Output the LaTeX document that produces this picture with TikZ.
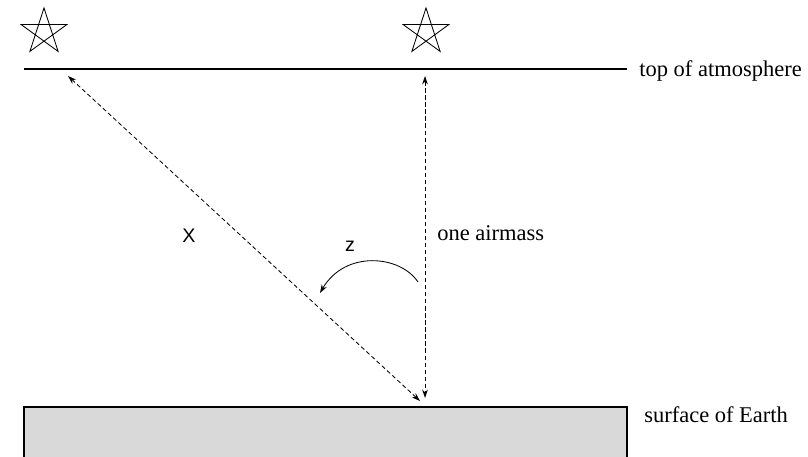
\documentclass[tikz,border=0pt]{standalone}
\usepackage{fontspec}
\setmainfont{Liberation Serif}
\newfontfamily\labfont{Liberation Sans}
\usetikzlibrary{arrows.meta}

\begin{document}
\begin{tikzpicture}[
    x=0.025cm, y=0.025cm,
    >={Stealth[length=6pt, width=4pt]},
    every node/.style={inner sep=0pt, font=\fontsize{16}{19}\selectfont},
    levelline/.style={line width=0.9pt},
    airpath/.style={<->, line width=0.6pt, dash pattern=on 3pt off 2pt},
    anglearc/.style={->, line width=0.6pt},
    ground/.style={draw, line width=1pt, fill=gray!30},
    starpath/.style={line width=0.6pt},
    varlab/.style={font=\labfont\fontsize{14}{16}\selectfont},
    ]
  \clip (0,0) rectangle (808,457);

  % the two stars
  \coordinate (star1) at (44,425);
  \coordinate (star2) at (426,425);
  \foreach \s in {star1, star2}
    \draw[starpath, shift={(\s)}] (90:24) -- (234:24) -- (18:24) -- (162:24) -- (306:24) -- cycle;

  % top of atmosphere
  \coordinate (toa west) at (24,388);
  \coordinate (toa east) at (627,388);
  \draw[levelline] (toa west) -- (toa east);
  \node[anchor=west] (toalab) at (639,386) {top of atmosphere};

  % surface
  \draw[ground] (24,50) rectangle (627,-10);
  \node[anchor=west] (surflab) at (644,42) {surface of Earth};

  % paths through the air
  \coordinate (slant top) at (68,381);
  \coordinate (zenith top) at (425,381);
  \coordinate (slant foot) at (420,56);
  \coordinate (zenith foot) at (425,59);
  \draw[airpath] (slant top) -- (slant foot);
  \draw[airpath] (zenith top) -- (zenith foot);

  % zenith angle
  \coordinate (arc start) at (418,175);
  \coordinate (arc end) at (320,164);
  \draw[anglearc] (arc start) .. controls (400,202) and (345,207) .. (arc end);

  \node[varlab] (xlab) at (189,221) {X};
  \node[varlab] (zlab) at (350,211) {z};
  \node[anchor=west] (airmass) at (437,224) {one airmass};
\end{tikzpicture}
\end{document}
